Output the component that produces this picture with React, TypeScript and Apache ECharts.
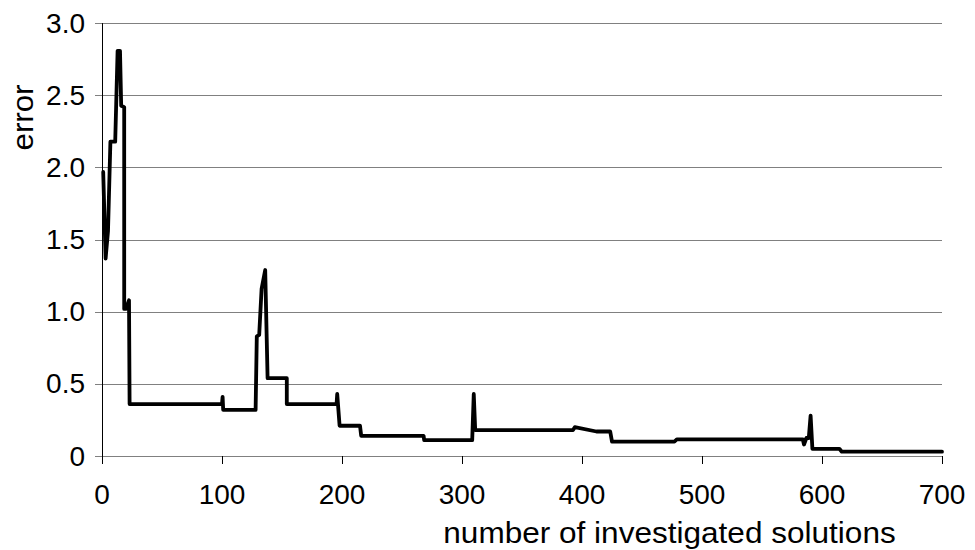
import React, { useEffect, useRef } from "react";
import * as echarts from "echarts";

const xValues = [
  1, 3, 5, 7, 11, 13, 15, 16, 18.5, 18.5, 20, 22.5, 23, 100, 100.5, 101, 128, 129, 131, 133, 136, 138, 154, 154,
  195.5, 196, 198, 215, 216, 268, 268.5, 308.5, 309.8, 311, 392.5, 394, 412, 423.5, 425, 477, 479, 584, 585, 587,
  589, 590.5, 592, 614.5, 616.5, 700,
];
const errorValues = [
  1.97, 1.37, 1.56, 2.18, 2.18, 2.81, 2.81, 2.43, 2.42, 1.02, 1.02, 1.08, 0.36, 0.36, 0.41, 0.32, 0.32, 0.83, 0.84,
  1.16, 1.29, 0.54, 0.54, 0.36, 0.36, 0.43, 0.21, 0.21, 0.14, 0.14, 0.11, 0.11, 0.43, 0.18, 0.18, 0.2, 0.17, 0.17,
  0.1, 0.1, 0.115, 0.115, 0.08, 0.125, 0.125, 0.28, 0.05, 0.05, 0.03, 0.03,
];
const xAxisTitle = "number of investigated solutions";
const yAxisTitle = "error";

const FONT = "'Liberation Sans', Arial, sans-serif";

export default function App() {
  const ref = useRef<HTMLDivElement>(null);
  useEffect(() => {
    if (!ref.current) return;
    const chart = echarts.init(ref.current, undefined, { renderer: "svg" });
    const data = xValues.map((x, i) => [x, errorValues[i]]);
    chart.setOption({
      animation: false,
      backgroundColor: "#ffffff",
      grid: { left: 102, top: 23.5, width: 840, height: 432.5, containLabel: false },
      xAxis: {
        type: "value",
        min: 0,
        max: 700,
        interval: 100,
        axisLine: { show: true, lineStyle: { color: "#808080", width: 1 } },
        axisTick: { show: true, length: 8, lineStyle: { color: "#000000", width: 1 } },
        axisLabel: { color: "#000000", fontSize: 28, fontFamily: FONT, margin: 24 },
        splitLine: { show: false },
      },
      yAxis: {
        type: "value",
        min: 0,
        max: 3,
        interval: 0.5,
        axisLine: { show: true, lineStyle: { color: "#000000", width: 1 } },
        axisTick: { show: true, length: 7, lineStyle: { color: "#808080", width: 1 } },
        axisLabel: {
          color: "#000000",
          fontSize: 28,
          fontFamily: FONT,
          margin: 17,
          formatter: (v: number) => (v === 0 ? "0" : v.toFixed(1)),
        },
        splitLine: { show: true, lineStyle: { color: "#808080", width: 1 } },
      },
      graphic: [
        {
          type: "text",
          x: 22,
          y: 117.5,
          rotation: Math.PI / 2,
          scaleX: 1.06,
          style: {
            text: yAxisTitle,
            fontSize: 29.5,
            fontFamily: FONT,
            fill: "#000000",
            textAlign: "center",
            textVerticalAlign: "middle",
          },
        },
        {
          type: "text",
          x: 669.5,
          y: 532,
          scaleX: 1.07,
          style: {
            text: xAxisTitle,
            fontSize: 29.5,
            fontFamily: FONT,
            fill: "#000000",
            textAlign: "center",
            textVerticalAlign: "middle",
          },
        },
      ],
      series: [
        {
          type: "line",
          data,
          showSymbol: false,
          symbol: "none",
          lineStyle: { color: "#000000", width: 3.8, join: "round", cap: "round" },
          silent: true,
        },
      ],
    });
    return () => chart.dispose();
  }, []);
  return (
    <div
      ref={ref}
      style={{ position: "fixed", left: 0, top: 0, width: 975, height: 550, background: "#ffffff" }}
    />
  );
}
